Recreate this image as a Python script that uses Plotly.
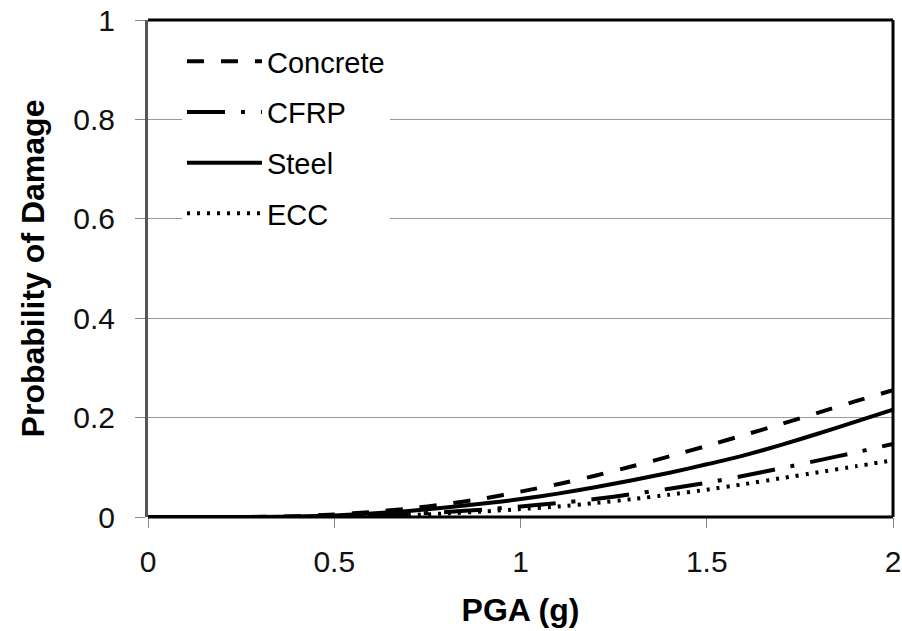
import plotly.graph_objects as go

pga = [0.0, 0.1, 0.2, 0.3, 0.4, 0.5, 0.6, 0.7, 0.8, 0.9, 1.0,
       1.1, 1.2, 1.3, 1.4, 1.5, 1.6, 1.7, 1.8, 1.9, 2.0]
concrete = [0, 0, 0, 0.0003, 0.0015, 0.005, 0.010, 0.017, 0.026, 0.037, 0.051,
            0.066, 0.083, 0.102, 0.122, 0.143, 0.165, 0.187, 0.210, 0.233, 0.255]
cfrp = [0, 0, 0, 0, 0.0002, 0.001, 0.003, 0.006, 0.010, 0.015, 0.021,
        0.028, 0.036, 0.046, 0.057, 0.069, 0.083, 0.098, 0.114, 0.130, 0.147]
steel = [0, 0, 0, 0.0001, 0.0008, 0.003, 0.007, 0.012, 0.019, 0.027, 0.036,
         0.047, 0.060, 0.074, 0.089, 0.106, 0.124, 0.145, 0.168, 0.192, 0.216]
ecc = [0, 0, 0, 0, 0.0001, 0.0006, 0.002, 0.004, 0.007, 0.011, 0.016,
       0.021, 0.028, 0.036, 0.045, 0.055, 0.066, 0.078, 0.090, 0.102, 0.114]

x_ticks = [0, 0.5, 1, 1.5, 2]
x_labels = ["0", "0.5", "1", "1.5", "2"]
y_ticks = [0, 0.2, 0.4, 0.6, 0.8, 1]
y_labels = ["0", "0.2", "0.4", "0.6", "0.8", "1"]

series = [
    ("Concrete", concrete, "17px,17px"),
    ("CFRP", cfrp, "38px,16px,4px,16px"),
    ("Steel", steel, "solid"),
    ("ECC", ecc, "3px,7px"),
]

fig = go.Figure()
for i, (name, vals, dash) in enumerate(series):
    fig.add_trace(go.Scatter(
        x=pga, y=vals, name=name, mode="lines",
        line=dict(color="black", width=4, dash=dash, shape="spline", smoothing=0.5),
        legendgroup=f"g{i}",
    ))

font_family = "Liberation Sans, Arial, sans-serif"

fig.update_layout(
    width=902, height=631,
    margin=dict(l=148, r=9, t=20, b=114, autoexpand=False),
    paper_bgcolor="white", plot_bgcolor="white",
    font=dict(family=font_family, color="black"),
    showlegend=True,
    legend=dict(
        x=0.0456, y=0.968, xanchor="left", yanchor="top",
        bgcolor="white", borderwidth=0,
        font=dict(size=29, family=font_family, color="black"),
        tracegroupgap=10, itemwidth=75,
    ),
    xaxis=dict(
        range=[0, 2], tickvals=x_ticks, ticktext=x_labels,
        showgrid=False, zeroline=False, automargin=False,
        showline=False,
        ticks="outside", ticklen=10, tickwidth=1, tickcolor="#888888",
        tickfont=dict(size=30, color="#111111"),
        ticklabelstandoff=8,
        title=dict(text="<b>PGA (g)</b>", font=dict(size=32), standoff=21),
    ),
    yaxis=dict(
        range=[0, 1], tickvals=y_ticks, ticktext=y_labels,
        showgrid=True, gridcolor="#9a9a9a", gridwidth=1, zeroline=False,
        automargin=False,
        showline=True, linecolor="#555555", linewidth=3,
        ticks="outside", ticklen=10, tickwidth=1, tickcolor="#888888",
        tickfont=dict(size=30, color="#111111"),
        ticklabelstandoff=14,
        title=dict(text="<b>Probability of Damage</b>", font=dict(size=32), standoff=20),
    ),
    shapes=[
        dict(type="line", xref="paper", yref="paper", x0=0, x1=1, y0=1, y1=1,
             line=dict(color="black", width=3)),
        dict(type="line", xref="paper", yref="paper", x0=1, x1=1, y0=0, y1=1,
             line=dict(color="black", width=3)),
        dict(type="line", xref="paper", yref="paper", x0=0, x1=1, y0=0, y1=0,
             line=dict(color="black", width=3)),
    ],
)

fig.write_html("out.html")
